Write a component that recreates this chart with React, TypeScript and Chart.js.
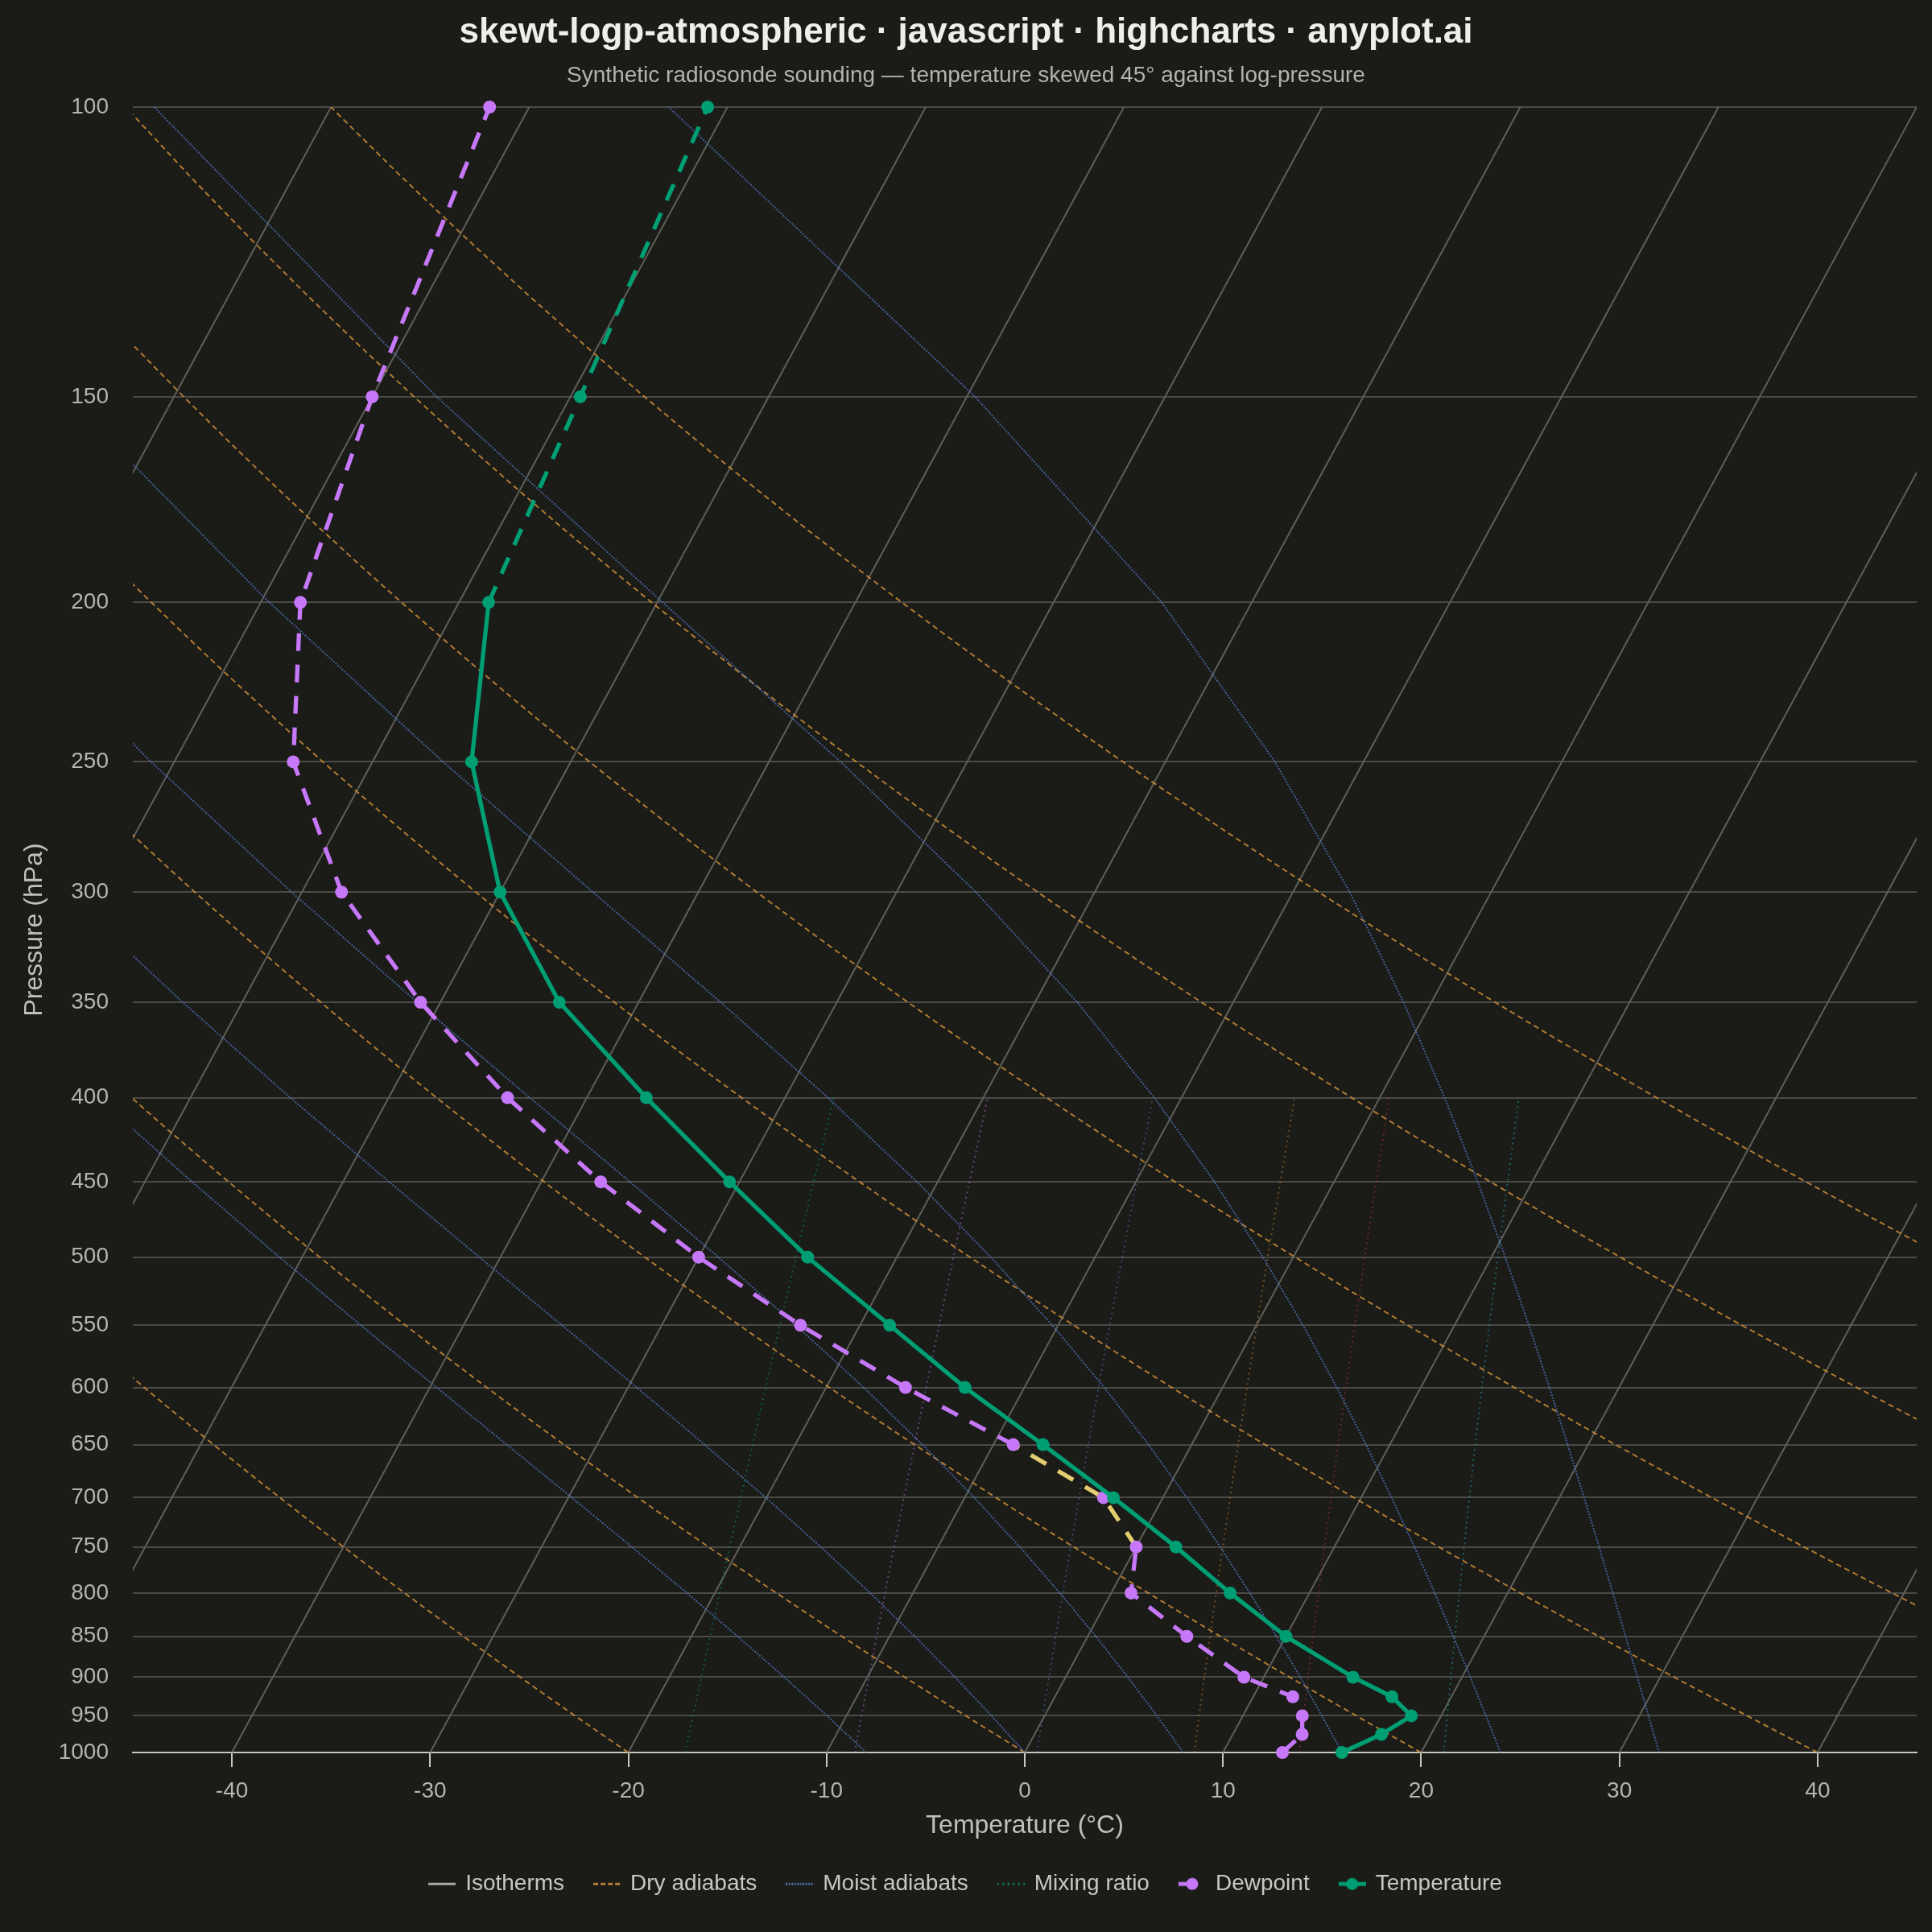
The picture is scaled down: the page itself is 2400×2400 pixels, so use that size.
import React, { useEffect, useRef } from 'react';
import { Chart, registerables } from 'chart.js';

Chart.register(...registerables);

// ---------------- data ----------------
const PRESSURE_LEVELS = [1000, 975, 950, 925, 900, 850, 800, 750, 700, 650, 600, 550, 500, 450, 400, 350, 300, 250, 200, 150, 100];
const TEMPERATURE = [16, 17.5, 18.5, 17, 14.5, 10, 6, 2, -2.5, -7.5, -13, -18.5, -24.5, -30.5, -37, -44, -50, -55, -58.5, -59.5, -61];
const DEWPOINT = [13, 13.5, 13, 12, 9, 5, 1, 0, -3, -9, -16, -23, -30, -37, -44, -51, -58, -64, -68, -70, -72];

const PRESSURE_TICKS = [100, 150, 200, 250, 300, 350, 400, 450, 500, 550, 600, 650, 700, 750, 800, 850, 900, 950, 1000];
const TEMP_TICKS = [-40, -30, -20, -10, 0, 10, 20, 30, 40];

const ISOTHERM_TEMPS = [-100, -90, -80, -70, -60, -50, -40, -30, -20, -10, 0, 10, 20, 30, 40];
const DRY_THETA_C = [-20, 0, 20, 40, 60, 80, 100];
const MOIST_START_C = [-8, 0, 8, 16, 24, 32];
const MIXING_RATIOS = [1, 2, 4, 7, 10, 16];

const STRATOSPHERE_BELOW_P = 200; // temperature dashed above this level
const MOIST_LAYER = [650, 750]; // highlighted dewpoint layer

const SKEW = 45;
const X_MIN = -45;
const X_MAX = 45;

// ---------------- style ----------------
const BG = '#1b1b17';
const FONT = "'Liberation Sans', Arial, Helvetica, sans-serif";
const TEMP_COLOR = '#009e73';
const DEW_COLOR = '#c678f8';
const MOIST_LAYER_COLOR = '#e3cd70';
const ISO_COLOR = '#5f5f5a';
const DRY_COLOR = 'rgba(212,146,58,0.8)';
const MOIST_COLOR = 'rgba(82,122,196,0.75)';
const MIX_COLORS = [
  'rgba(0,158,115,0.5)',
  'rgba(198,120,248,0.45)',
  'rgba(82,122,196,0.5)',
  'rgba(212,146,58,0.45)',
  'rgba(200,60,60,0.45)',
  'rgba(40,170,185,0.5)',
];
const PROFILE_DASH = [22, 17];

// ---------------- thermodynamics helpers ----------------
const skewX = (tC: number, p: number) => tC + SKEW * Math.log10(1000 / p);
const satVap = (tC: number) => 6.112 * Math.exp((17.67 * tC) / (tC + 243.5));

function isotherm(t: number) {
  return [1000, 100].map((p) => ({ x: skewX(t, p), y: p }));
}

function dryAdiabat(thetaC: number) {
  const th = thetaC + 273.15;
  const pts: { x: number; y: number }[] = [];
  for (let i = 0; i <= 90; i++) {
    const p = 1000 - 10 * i;
    const t = th * Math.pow(p / 1000, 0.286) - 273.15;
    pts.push({ x: skewX(t, p), y: p });
  }
  return pts;
}

function moistLapse(tK: number, p: number) {
  const RD = 287.04, CP = 1005.7, LV = 2.501e6, EPS = 0.622;
  const es = satVap(tK - 273.15);
  const ws = (EPS * es) / (p - es);
  const num = RD * tK + LV * ws;
  const den = CP + (LV * LV * ws * EPS) / (RD * tK * tK);
  return num / (den * p);
}

function moistAdiabat(t0C: number) {
  const H = 5;
  let t = t0C + 273.15;
  const pts: { x: number; y: number }[] = [];
  for (let i = 0; i <= 180; i++) {
    const p = 1000 - H * i;
    if (i % 10 === 0) pts.push({ x: skewX(t - 273.15, p), y: p });
    t -= moistLapse(t, p) * H;
  }
  return pts;
}

function mixingLine(w: number) {
  const pts: { x: number; y: number }[] = [];
  for (let i = 0; i <= 12; i++) {
    const p = 1000 - 50 * i;
    const e = (w * p) / (622 + w);
    const l = Math.log(e / 6.112);
    const td = (243.5 * l) / (17.67 - l);
    pts.push({ x: skewX(td, p), y: p });
  }
  return pts;
}

// ---------------- legend symbols ----------------
function symbol(opts: { color: string; width: number; dash?: number[]; marker?: boolean }) {
  const c = document.createElement('canvas');
  c.width = 34;
  c.height = 20;
  const g = c.getContext('2d')!;
  g.strokeStyle = opts.color;
  g.lineWidth = opts.width;
  g.setLineDash(opts.dash || []);
  g.beginPath();
  g.moveTo(0, 10);
  g.lineTo(34, 10);
  g.stroke();
  if (opts.marker) {
    g.setLineDash([]);
    g.fillStyle = opts.color;
    g.beginPath();
    g.arc(17, 10, 7.5, 0, Math.PI * 2);
    g.fill();
  }
  return c;
}

export default function App() {
  const ref = useRef<HTMLCanvasElement | null>(null);

  useEffect(() => {
    document.body.style.margin = '0';
    document.body.style.background = BG;
    const canvas = ref.current;
    if (!canvas) return;

    const profile = (vals: number[]) => PRESSURE_LEVELS.map((p, i) => ({ x: skewX(vals[i], p), y: p }));

    const bgLine = (data: any[], color: string, width: number, dash: number[] = []) => ({
      data,
      showLine: true,
      borderColor: color,
      borderWidth: width,
      borderDash: dash,
      pointRadius: 0,
      pointHoverRadius: 0,
      pointHitRadius: 0,
      clip: 0,
      tension: 0,
    });

    const datasets: any[] = [
      {
        label: 'Temperature',
        data: profile(TEMPERATURE),
        showLine: true,
        borderColor: TEMP_COLOR,
        backgroundColor: TEMP_COLOR,
        borderWidth: 5.3,
        pointRadius: 8,
        pointBorderWidth: 0,
        pointBackgroundColor: TEMP_COLOR,
        clip: false,
        segment: {
          borderDash: (c: any) => (c.p1.parsed.y < STRATOSPHERE_BELOW_P ? PROFILE_DASH : undefined),
        },
      },
      {
        label: 'Dewpoint',
        data: profile(DEWPOINT),
        showLine: true,
        borderColor: DEW_COLOR,
        backgroundColor: DEW_COLOR,
        borderWidth: 5.3,
        borderDash: PROFILE_DASH,
        pointRadius: 8,
        pointBorderWidth: 0,
        pointBackgroundColor: DEW_COLOR,
        clip: false,
        segment: {
          borderColor: (c: any) =>
            c.p1.parsed.y >= MOIST_LAYER[0] && c.p0.parsed.y <= MOIST_LAYER[1] ? MOIST_LAYER_COLOR : undefined,
        },
      },
      ...MIXING_RATIOS.map((w, i) => bgLine(mixingLine(w), MIX_COLORS[i % MIX_COLORS.length], 2, [2, 4.5])),
      ...MOIST_START_C.map((t) => bgLine(moistAdiabat(t), MOIST_COLOR, 2, [2, 1.7])),
      ...DRY_THETA_C.map((t) => bgLine(dryAdiabat(t), DRY_COLOR, 2, [7, 4.5])),
      ...ISOTHERM_TEMPS.map((t) => bgLine(isotherm(t), ISO_COLOR, 2)),
    ];

    const legendItems = [
      { text: 'Isotherms', pointStyle: symbol({ color: '#c8c8c0', width: 2.5 }) },
      { text: 'Dry adiabats', pointStyle: symbol({ color: '#d4923a', width: 2.5, dash: [6, 3] }) },
      { text: 'Moist adiabats', pointStyle: symbol({ color: '#5a82c8', width: 2.5, dash: [2, 1.5] }) },
      { text: 'Mixing ratio', pointStyle: symbol({ color: '#009e73', width: 2.5, dash: [2, 4.5] }) },
      { text: 'Dewpoint', pointStyle: symbol({ color: DEW_COLOR, width: 5, dash: [17, 40], marker: true }) },
      { text: 'Temperature', pointStyle: symbol({ color: TEMP_COLOR, width: 5, marker: true }) },
    ];

    const bgPlugin = {
      id: 'bg',
      beforeDraw(chart: any) {
        const g = chart.ctx;
        g.save();
        g.fillStyle = BG;
        g.fillRect(0, 0, chart.width, chart.height);
        g.restore();
      },
    };

    const chart = new Chart(canvas, {
      type: 'scatter',
      data: { datasets },
      plugins: [bgPlugin],
      options: {
        responsive: false,
        devicePixelRatio: 1,
        animation: false,
        events: [],
        layout: { padding: { top: 0, left: 0, right: 0, bottom: 35.7 } },
        plugins: {
          tooltip: { enabled: false },
          title: {
            display: true,
            text: 'skewt-logp-atmospheric · javascript · highcharts · anyplot.ai',
            color: '#efefe9',
            font: { family: FONT, size: 44, weight: 'bold' },
            padding: { top: 14.6, bottom: 0 },
          },
          subtitle: {
            display: true,
            text: 'Synthetic radiosonde sounding — temperature skewed 45° against log-pressure',
            color: '#b3b3ab',
            font: { family: FONT, size: 28 },
            padding: { top: 10.3, bottom: 21.7 },
          },
          legend: {
            display: true,
            position: 'bottom',
            onClick: () => {},
            labels: {
              usePointStyle: true,
              pointStyleWidth: 30,
              padding: 38,
              color: '#c8c8c0',
              font: { family: FONT, size: 28 },
              generateLabels: () =>
                legendItems.map((it) => ({
                  text: it.text,
                  pointStyle: it.pointStyle,
                  fillStyle: 'transparent',
                  strokeStyle: 'transparent',
                  lineWidth: 0,
                  hidden: false,
                  fontColor: '#c8c8c0',
                })),
            },
          },
        },
        scales: {
          x: {
            type: 'linear',
            min: X_MIN,
            max: X_MAX,
            afterBuildTicks: (s: any) => {
              s.ticks = TEMP_TICKS.map((v) => ({ value: v }));
            },
            ticks: {
              color: '#b5b5ad',
              font: { family: FONT, size: 28 },
              padding: 13.2,
              autoSkip: false,
              maxRotation: 0,
              callback: (v: any) => String(v),
            },
            grid: { drawOnChartArea: false, drawTicks: true, tickLength: 18, color: '#c8c8c0', lineWidth: 2 },
            border: { display: true, color: '#c8c8c0', width: 2 },
            title: {
              display: true,
              text: 'Temperature (°C)',
              color: '#c0c0b8',
              font: { family: FONT, size: 32 },
              padding: { top: -5.9, bottom: 0.8 },
            },
          },
          y: {
            type: 'logarithmic',
            reverse: true,
            min: 100,
            max: 1000,
            afterBuildTicks: (s: any) => {
              s.ticks = PRESSURE_TICKS.map((v) => ({ value: v }));
            },
            ticks: {
              color: '#b5b5ad',
              font: { family: FONT, size: 28 },
              padding: 30,
              autoSkip: false,
              callback: (v: any) => String(v),
            },
            grid: { color: '#4a4a46', lineWidth: 2, drawTicks: false },
            border: { display: false },
            title: {
              display: true,
              text: 'Pressure (hPa)',
              color: '#c0c0b8',
              font: { family: FONT, size: 32 },
              padding: { top: 23.8, bottom: -19.5 },
            },
          },
          // empty spacer on the right so the centred title/legend stay centred on the page
          spacer: {
            type: 'linear',
            position: 'right',
            display: true,
            min: 0,
            max: 1,
            ticks: { display: false },
            grid: { drawOnChartArea: false, drawTicks: true, tickLength: 19, color: 'rgba(0,0,0,0)' },
            border: { display: false },
            title: { display: false },
          },
        },
      } as any,
    });

    return () => chart.destroy();
  }, []);

  return (
    <div style={{ position: 'absolute', left: 0, top: 0, width: 2400, height: 2400, background: BG }}>
      <canvas ref={ref} width={2400} height={2400} style={{ display: 'block', width: 2400, height: 2400 }} />
    </div>
  );
}
